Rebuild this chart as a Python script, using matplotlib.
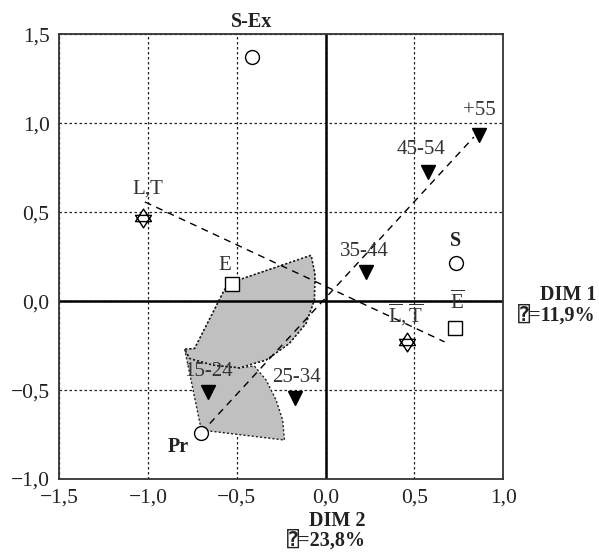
import matplotlib
matplotlib.use("Agg")
import matplotlib.pyplot as plt
from matplotlib.patches import Polygon
from matplotlib.path import Path

plt.rcParams['font.family'] = ['Liberation Serif', 'DejaVu Sans', 'DejaVu Sans Mono']
plt.rcParams['mathtext.fontset'] = 'custom'
plt.rcParams['mathtext.rm'] = 'Liberation Serif'
plt.rcParams['mathtext.it'] = 'Liberation Serif:italic'
plt.rcParams['mathtext.bf'] = 'Liberation Serif:bold'

# --- data ---------------------------------------------------------------
age_labels = ["15-24", "25-34", "35-44", "45-54", "+55"]
age_x = [-0.663, -0.170, 0.227, 0.577, 0.864]
age_y = [-0.510, -0.547, 0.165, 0.727, 0.936]

circle_labels = ["S-Ex", "S", "Pr"]
circle_x = [-0.416, 0.734, -0.700]
circle_y = [1.372, 0.217, -0.740]

square_labels = ["E", r"$\overline{\mathrm{E}}$"]
square_x = [-0.528, 0.729]
square_y = [0.095, -0.150]

star_labels = ["L,T", r"$\overline{\mathrm{L}}\mathrm{,}\,\overline{\mathrm{T}}$"]
star_x = [-1.031, 0.460]
star_y = [0.465, -0.229]

lt_line_x = [-1.018, 0.670]
lt_line_y = [0.558, -0.229]
age_line_x = [-0.700, 0.835]
age_line_y = [-0.740, 0.923]

upper_region_x = [-0.494, -0.082, -0.060, -0.063, -0.110, -0.204, -0.335, -0.485,
                  -0.635, -0.766, -0.794, -0.738, -0.569]
upper_region_y = [0.118, 0.258, 0.156, 0.006, -0.125, -0.238, -0.331, -0.375,
                  -0.360, -0.322, -0.270, -0.266, 0.066]
lower_region_x = [-0.794, -0.700, -0.232, -0.242, -0.279, -0.335, -0.401, -0.485,
                  -0.635, -0.766]
lower_region_y = [-0.270, -0.725, -0.781, -0.669, -0.556, -0.444, -0.365, -0.375,
                  -0.360, -0.322]

x_ticks = [-1.5, -1.0, -0.5, 0.0, 0.5, 1.0]
y_ticks = [-1.0, -0.5, 0.0, 0.5, 1.0, 1.5]
x_title = ["DIM 2", "\u2370=23,8%"]
y_title = ["DIM 1", "\u2370=11,9%"]

# --- figure -------------------------------------------------------------
fig = plt.figure(figsize=(5.99, 5.55), dpi=100)
ax = fig.add_axes([0.099, 0.137, 0.741, 0.801])
ax.set_xlim(-1.5, 1.0)
ax.set_ylim(-1.0, 1.5)

ax.set_xticks(x_ticks)
ax.set_yticks(y_ticks)
fmt = lambda v: f"{v:.1f}".replace(".", ",").replace("-", "\u2212")
ax.set_xticklabels([fmt(v) for v in x_ticks])
ax.set_yticklabels([fmt(v) for v in y_ticks])
ax.tick_params(axis='x', length=0, labelsize=15.5, colors='#222222', pad=7)
ax.tick_params(axis='y', length=0, labelsize=15.5, colors='#222222', pad=7)

for s in ax.spines.values():
    s.set_linewidth(1.3)
    s.set_color('#333333')

ax.grid(True, color='#222222', linestyle=(0, (2, 2)), linewidth=0.9)
ax.set_axisbelow(True)
ax.axhline(0, color='black', lw=1.8, zorder=2)
ax.axvline(0, color='black', lw=1.8, zorder=2)

# shaded regions
for rx, ry in [(lower_region_x, lower_region_y), (upper_region_x, upper_region_y)]:
    ax.add_patch(Polygon(list(zip(rx, ry)), closed=True, facecolor='#c0c0c0',
                         edgecolor='#222222', linestyle=(0, (1.5, 1.5)), lw=1.0, zorder=1.5))
ax.add_patch(Polygon(list(zip(upper_region_x, upper_region_y)), closed=True, facecolor='none',
                     edgecolor='#222222', linestyle=(0, (1.5, 1.5)), lw=1.0, zorder=2.5))

# dashed lines
ax.plot(lt_line_x, lt_line_y, color='black', lw=1.0, linestyle=(0, (5, 4)), zorder=3)
ax.plot(age_line_x, age_line_y, color='black', lw=1.0, linestyle=(0, (5, 4)), zorder=3)

# hexagram marker (two overlapping triangles)
star_path = Path(
    [(0, 1), (-0.85, -0.33), (0.85, -0.33), (0, 1),
     (0, -1), (-0.85, 0.33), (0.85, 0.33), (0, -1)],
    [Path.MOVETO, Path.LINETO, Path.LINETO, Path.CLOSEPOLY,
     Path.MOVETO, Path.LINETO, Path.LINETO, Path.CLOSEPOLY])

# markers
ax.plot(age_x, age_y, 'v', color='black', ms=10, zorder=4, linestyle='none')
ax.plot(circle_x, circle_y, 'o', mfc='white', mec='black', ms=10, mew=1.0, zorder=4, linestyle='none')
ax.plot(square_x, square_y, 's', mfc='white', mec='black', ms=10, mew=1.0, zorder=4, linestyle='none')
ax.plot(star_x, star_y, marker=star_path, mfc='white', mec='black', ms=13.5, mew=1.0,
        zorder=4, linestyle='none')

# labels
tc = '#333333'
age_off = [(0.006, 0.113), (0.004, 0.117), (-0.010, 0.112), (-0.041, 0.127), (0.0, 0.134)]
for lab, x, y, (dx, dy) in zip(age_labels, age_x, age_y, age_off):
    ax.text(x + dx, y + dy, lab, ha='center', va='center', fontsize=15, color=tc, zorder=5)

circ_off = [(0.0, 0.200), (0.0, 0.123), (-0.130, -0.080)]
for lab, x, y, (dx, dy) in zip(circle_labels, circle_x, circle_y, circ_off):
    ax.text(x + dx, y + dy, lab, ha='center', va='center', fontsize=14.5,
            fontweight='bold', color='#222222', zorder=5, clip_on=False)

sq_off = [(-0.042, 0.105), (0.011, 0.145)]
for lab, x, y, (dx, dy) in zip(square_labels, square_x, square_y, sq_off):
    ax.text(x + dx, y + dy, lab, ha='center', va='center', fontsize=15, color=tc, zorder=5)

st_off = [(0.031, 0.165), (-0.010, 0.150)]
for lab, x, y, (dx, dy) in zip(star_labels, star_x, star_y, st_off):
    ax.text(x + dx, y + dy, lab, ha='center', va='center', fontsize=15, color=tc, zorder=5)

# axis titles
fig.text(0.995, 1 - 305 / 555, "\n".join(y_title), ha='right', va='center', fontsize=14.5,
         fontweight='bold', color='#222222', linespacing=1.0, multialignment='right')
fig.text(326 / 599, 1 - 531 / 555, "\n".join(x_title), ha='center', va='center', fontsize=14.5,
         fontweight='bold', color='#222222', linespacing=0.92, multialignment='right')

fig.savefig("out.png", dpi=100)
